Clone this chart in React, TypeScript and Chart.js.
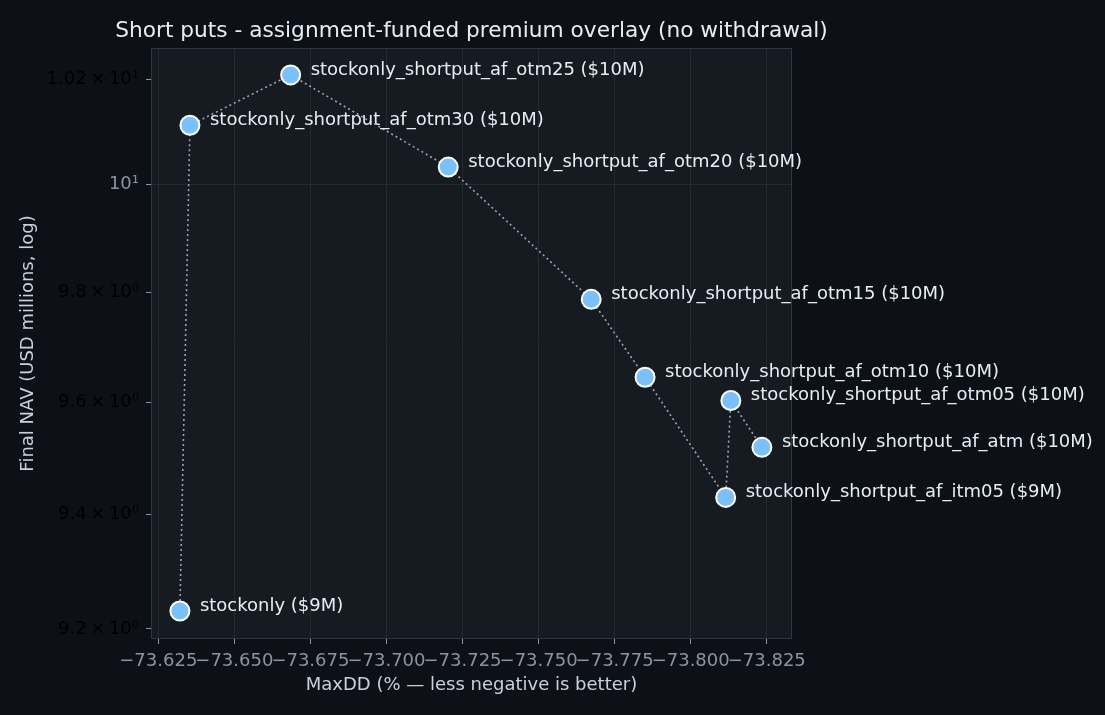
import React, { useEffect, useRef } from "react";
import { Chart, registerables } from "chart.js";

Chart.register(...registerables);

const labels = [
  "stockonly ($9M)",
  "stockonly_shortput_af_otm30 ($10M)",
  "stockonly_shortput_af_otm25 ($10M)",
  "stockonly_shortput_af_otm20 ($10M)",
  "stockonly_shortput_af_otm15 ($10M)",
  "stockonly_shortput_af_otm10 ($10M)",
  "stockonly_shortput_af_itm05 ($9M)",
  "stockonly_shortput_af_otm05 ($10M)",
  "stockonly_shortput_af_atm ($10M)",
];
const maxDD = [-73.6321, -73.6354, -73.6685, -73.7203, -73.7673, -73.785, -73.8115, -73.8132, -73.8234];
const finalNav = [9.231, 10.112, 10.208, 10.033, 9.787, 9.645, 9.43, 9.603, 9.519];

const xTicks = [-73.625, -73.65, -73.675, -73.7, -73.725, -73.75, -73.775, -73.8, -73.825];
const yTicks = [9.2, 9.4, 9.6, 9.8, 10, 10.2];
const yTickLabels = ["9.2\u2009×\u200910⁰", "9.4\u2009×\u200910⁰", "9.6\u2009×\u200910⁰", "9.8\u2009×\u200910⁰", "10¹", "1.02\u2009×\u200910¹"];

const TITLE = "Short puts - assignment-funded premium overlay (no withdrawal)";
const X_TITLE = "MaxDD (% — less negative is better)";
const Y_TITLE = "Final NAV (USD millions, log)";

const FONT = "'DejaVu Sans', sans-serif";

export default function App() {
  const ref = useRef<HTMLCanvasElement | null>(null);
  useEffect(() => {
    if (!ref.current) return;
    const decor = {
      id: "decor",
      beforeDraw(chart: any) {
        const { ctx, chartArea: a } = chart;
        ctx.save();
        ctx.fillStyle = "#0d1117";
        ctx.fillRect(0, 0, chart.width, chart.height);
        ctx.fillStyle = "#161b22";
        ctx.fillRect(a.left, a.top, a.right - a.left, a.bottom - a.top);
        ctx.restore();
      },
      afterDatasetsDraw(chart: any) {
        const { ctx, chartArea: a } = chart;
        ctx.save();
        ctx.strokeStyle = "#30363d";
        ctx.lineWidth = 1;
        ctx.strokeRect(a.left + 0.5, a.top + 0.5, a.right - a.left - 1, a.bottom - a.top - 1);
        const meta = chart.getDatasetMeta(0);
        ctx.fillStyle = "#e6edf3";
        ctx.font = `18px ${FONT}`;
        ctx.textBaseline = "middle";
        ctx.textAlign = "left";
        meta.data.forEach((pt: any, i: number) => {
          ctx.fillText(labels[i], pt.x + 20, pt.y - 5);
        });
        ctx.textAlign = "center";
        ctx.font = `21.7px ${FONT}`;
        ctx.fillText(TITLE, (a.left + a.right) / 2, 31);
        ctx.fillStyle = "#c9d1d9";
        ctx.font = `18px ${FONT}`;
        ctx.fillText(X_TITLE, (a.left + a.right) / 2, 685);
        ctx.translate(28, (a.top + a.bottom) / 2);
        ctx.rotate(-Math.PI / 2);
        ctx.fillText(Y_TITLE, 0, 0);
        ctx.restore();
      },
    };
    const chart = new Chart(ref.current, {
      type: "scatter",
      data: {
        datasets: [
          {
            data: maxDD.map((x, i) => ({ x, y: finalNav[i] })),
            showLine: true,
            borderColor: "rgba(170,178,188,0.9)",
            borderWidth: 1.6,
            borderDash: [2, 3],
            pointRadius: 9.5,
            pointBorderWidth: 2,
            pointBorderColor: "#ffffff",
            pointBackgroundColor: "#79c0ff",
            clip: false as any,
          },
        ],
      },
      plugins: [decor],
      options: {
        animation: false,
        responsive: false,
        devicePixelRatio: 1,
        layout: { padding: { left: 0, top: 48, right: 313, bottom: 0 } },
        plugins: { legend: { display: false }, tooltip: { enabled: false } },
        scales: {
          x: {
            type: "linear",
            reverse: true,
            min: -73.8333,
            max: -73.6226,
            afterBuildTicks: (s: any) => {
              s.ticks = xTicks.map((v) => ({ value: v }));
            },
            afterFit: (s: any) => {
              s.height = 76;
            },
            border: { display: false },
            grid: {
              color: "rgba(48,54,61,0.55)",
              tickColor: "#8b949e",
              tickLength: 5,
              lineWidth: 1,
            },
            ticks: {
              color: "#8b949e",
              font: { family: FONT, size: 18 },
              padding: 7,
              maxRotation: 0,
              autoSkip: false,
              callback: (v: any) => Number(v).toFixed(3).replace("-", "\u2212"),
            },
          },
          y: {
            type: "logarithmic",
            min: 9.1827,
            max: 10.2597,
            afterBuildTicks: (s: any) => {
              s.ticks = yTicks.map((v) => ({ value: v }));
            },
            afterFit: (s: any) => {
              s.width = 151;
            },
            border: { display: false },
            grid: {
              color: (c: any) => (c.tick && c.tick.value === 10 ? "rgba(48,54,61,0.55)" : "rgba(0,0,0,0)"),
              tickColor: "#8b949e",
              tickLength: 5,
            },
            ticks: {
              color: (c: any) => (c.tick && c.tick.value === 10 ? "#8b949e" : "#000000"),
              font: { family: FONT, size: 18 },
              padding: 7,
              autoSkip: false,
              callback: (v: any) => {
                const i = yTicks.findIndex((t) => Math.abs(t - Number(v)) < 1e-6);
                return i >= 0 ? yTickLabels[i] : "";
              },
            },
          },
        },
      },
    });
    return () => chart.destroy();
  }, []);
  return (
    <div style={{ position: "absolute", left: 0, top: 0, width: 1105, height: 715 }}>
      <canvas ref={ref} width={1105} height={715} style={{ width: 1105, height: 715, display: "block" }} />
    </div>
  );
}
